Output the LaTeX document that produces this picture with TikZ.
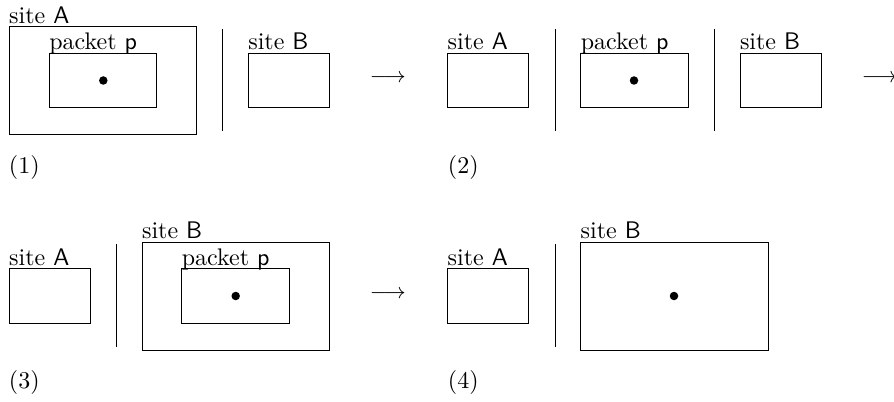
\documentclass[tikz,border=0pt]{standalone}
\newcommand\pxu{0.41667pt}
\tikzset{
  box/.style={draw, line width=0.4pt, inner sep=0pt, outer sep=0pt,
    minimum width=81*\pxu, minimum height=54.5*\pxu},
  pktbox/.style={box, minimum width=107.5*\pxu},
  bigbox/.style={box, minimum width=187.5*\pxu, minimum height=107.5*\pxu},
  tag/.style={anchor=base west, inner sep=0pt, outer sep=0pt},
  steplabel/.style={anchor=base west, inner sep=0pt},
  arrowsym/.style={anchor=base west, inner sep=0pt, font=\fontsize{9pt}{11pt}\selectfont},
  token/.style={circle, fill=black, draw=none, inner sep=0pt, minimum size=8.5*\pxu},
  divider/.style={line width=0.4pt},
}
\begin{document}
\begin{tikzpicture}[x=\pxu, y=-\pxu]
\useasboundingbox (0,0) rectangle (894,401);

% ---- (1) packet inside site A ----
\node[bigbox] (A1) at (102.9,80.7) {};
\node[tag] (A1t) at ([yshift=3.8*\pxu]A1.north west) {site \textsf{A}};
\node[pktbox] (P1) at (103,80.7) {};
\node[tag] (P1t) at ([yshift=3.8*\pxu]P1.north west) {packet \textsf{p}};
\node[token] (d1) at (103.3,80.5) {};
\coordinate (s1a) at (222.7,29.3);
\coordinate (s1b) at (222.7,131.3);
\draw[divider] (s1a) -- (s1b);
\node[box] (B1) at (288.8,80.7) {};
\node[tag] (B1t) at ([yshift=3.8*\pxu]B1.north west) {site \textsf{B}};
\node[steplabel] (n1) at (8.5,173.5) {(1)};
\node[arrowsym] (r1) at (369.5,83) {$\longrightarrow$};

% ---- (2) packet between the sites ----
\node[box] (A2) at (488.2,80.7) {};
\node[tag] (A2t) at ([yshift=3.8*\pxu]A2.north west) {site \textsf{A}};
\coordinate (s2a) at (555,29.3);
\coordinate (s2b) at (555,131.3);
\draw[divider] (s2a) -- (s2b);
\node[pktbox] (P2) at (634.5,80.7) {};
\node[tag] (P2t) at ([yshift=3.8*\pxu]P2.north west) {packet \textsf{p}};
\node[token] (d2) at (634,80.5) {};
\coordinate (s3a) at (714.3,29.3);
\coordinate (s3b) at (714.3,131.3);
\draw[divider] (s3a) -- (s3b);
\node[box] (B2) at (780.5,80.7) {};
\node[tag] (B2t) at ([yshift=3.8*\pxu]B2.north west) {site \textsf{B}};
\node[steplabel] (n2) at (447.5,173.5) {(2)};
\node[arrowsym] (r2) at (861.3,83) {$\longrightarrow$};

% ---- (3) packet inside site B ----
\node[box] (A3) at (49.7,296.2) {};
\node[tag] (A3t) at ([yshift=3.8*\pxu]A3.north west) {site \textsf{A}};
\coordinate (s4a) at (116.7,244);
\coordinate (s4b) at (116.7,346.7);
\draw[divider] (s4a) -- (s4b);
\node[bigbox] (B3) at (235.8,296.3) {};
\node[tag] (B3t) at ([yshift=4.5*\pxu]B3.north west) {site \textsf{B}};
\node[pktbox] (P3) at (235.5,296.2) {};
\node[tag] (P3t) at ([yshift=3.8*\pxu]P3.north west) {packet \textsf{p}};
\node[token] (d3) at (235.7,296) {};
\node[steplabel] (n3) at (8.5,388.5) {(3)};
\node[arrowsym] (r3) at (369.5,298) {$\longrightarrow$};

% ---- (4) packet dissolved into site B ----
\node[box] (A4) at (488.2,296.2) {};
\node[tag] (A4t) at ([yshift=3.8*\pxu]A4.north west) {site \textsf{A}};
\coordinate (s5a) at (555,244);
\coordinate (s5b) at (555,346.7);
\draw[divider] (s5a) -- (s5b);
\node[bigbox] (B4) at (674.4,296.3) {};
\node[tag] (B4t) at ([yshift=4.5*\pxu]B4.north west) {site \textsf{B}};
\node[token] (d4) at (674,296) {};
\node[steplabel] (n4) at (447.5,388.5) {(4)};
\end{tikzpicture}
\end{document}
